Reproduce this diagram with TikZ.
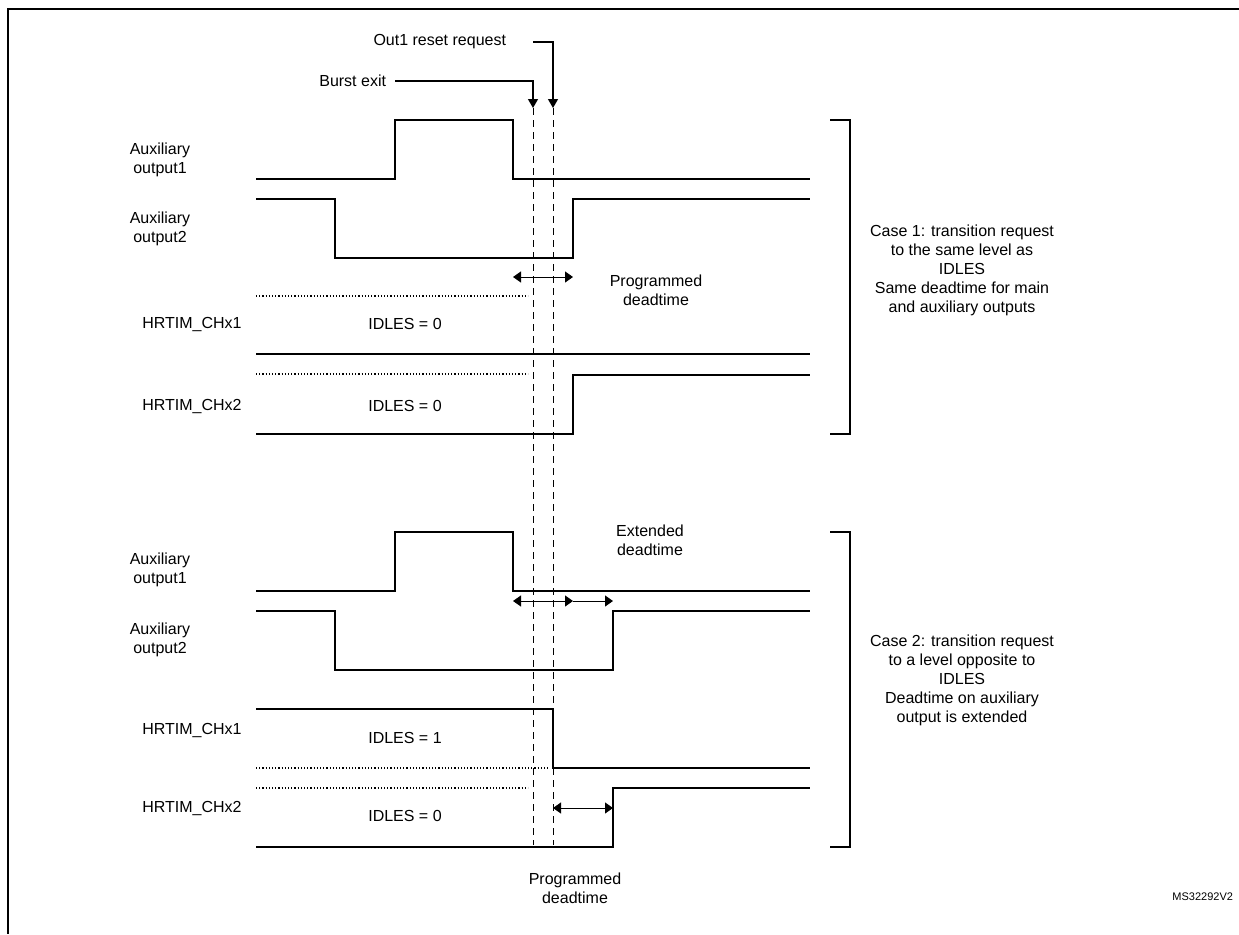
\documentclass[tikz,border=0pt]{standalone}
\usepackage{fontspec}
\setmainfont{Liberation Sans}
\usetikzlibrary{arrows.meta}
\begin{document}
\begin{tikzpicture}[x=1pt,y=-1pt,line width=1.3pt,
  lbl/.style={font=\fontsize{16}{19}\selectfont,align=center},
  sig/.style={line width=1.4pt},
  dots/.style={dotted,line width=1.2pt},
  reqline/.style={line width=1pt,dash pattern=on 7pt off 5pt},
  tip/.style={-{Triangle[length=9pt,width=10pt]}},
  dt/.style={{Triangle[length=8pt,width=11pt]}-{Triangle[length=8pt,width=11pt]},line width=1pt}]
\useasboundingbox (0,0) rectangle (1239,934);
%FRAME
\draw[line width=1.5pt] (1239,9) -- (8,9) -- (8,934);
%REQUESTS
\coordinate (be) at (533,108);
\coordinate (rr) at (553,108);
\node[lbl,anchor=east] (burst) at (390,81) {Burst exit};
\node[lbl,anchor=east] (reset) at (510,42) {Out1 reset request};
\draw[tip] (burst.east) ++(5,0) -| (be);
\draw[tip] (reset.east) ++(23,0) -| (rr);
\draw[reqline] (be) -- (533,845);
\draw[reqline] (rr) -- (553,845);

%CASE 1
\node[lbl] (a1) at (160,160) {Auxiliary\\output1};
\node[lbl] (a2) at (160,229) {Auxiliary\\output2};
\node[lbl] (h1) at (192,325) {HRTIM\_CHx1};
\node[lbl] (h2) at (192,406) {HRTIM\_CHx2};
\node[lbl] (i1) at (405,324) {IDLES = 0};
\node[lbl] (i2) at (405,406) {IDLES = 0};
\draw[sig] (256,179) -- (395,179) -- (395,120) -- (513,120) -- (513,179) -- (810,179);
\draw[sig] (256,199) -- (335,199) -- (335,258) -- (573,258) -- (573,199) -- (810,199);
\draw[dots] (256,296) -- (528,296);
\draw[sig] (256,354) -- (810,354);
\draw[dots] (256,374) -- (528,374);
\draw[sig] (256,434) -- (573,434) -- (573,375) -- (810,375);
\coordinate (p1a) at (513,277);
\coordinate (p1b) at (573,277);
\draw[dt] (p1a) -- (p1b);
\node[lbl] (pd1) at (656,290) {Programmed\\deadtime};
\draw[sig] (830,120) -- (850,120) -- (850,434) -- (830,434);
\node[lbl] (c1) at (962,270) {Case 1: transition request\\to the same level as\\IDLES\\Same deadtime for main\\and auxiliary outputs};

%CASE 2
\node[lbl] (b1) at (160,570) {Auxiliary\\output1};
\node[lbl] (b2) at (160,640) {Auxiliary\\output2};
\node[lbl] (g1) at (192,730) {HRTIM\_CHx1};
\node[lbl] (g2) at (192,808) {HRTIM\_CHx2};
\node[lbl] (j1) at (405,738) {IDLES = 1};
\node[lbl] (j2) at (405,816) {IDLES = 0};
\draw[sig] (256,591) -- (395,591) -- (395,532) -- (513,532) -- (513,591) -- (810,591);
\draw[sig] (256,611) -- (335,611) -- (335,670) -- (613,670) -- (613,611) -- (810,611);
\draw[sig] (256,709) -- (553,709) -- (553,768) -- (810,768);
\draw[dots] (256,768) -- (548,768);
\draw[dots] (256,788) -- (528,788);
\draw[sig] (256,847) -- (613,847) -- (613,788) -- (810,788);
\coordinate (e1) at (513,601);
\coordinate (e2) at (573,601);
\coordinate (e3) at (613,601);
\draw[dt] (e1) -- (e2);
\draw[line width=1pt,-{Triangle[length=8pt,width=11pt]}] (e2) -- (e3);
\node[lbl] (ed) at (650,540) {Extended\\deadtime};
\coordinate (p2a) at (553,808);
\coordinate (p2b) at (613,808);
\draw[dt] (p2a) -- (p2b);
\node[lbl] (pd2) at (575,888) {Programmed\\deadtime};
\draw[sig] (830,532) -- (850,532) -- (850,847) -- (830,847);
\node[lbl] (c2) at (962,680) {Case 2: transition request\\to a level opposite to\\IDLES\\Deadtime on auxiliary\\output is extended};

\node[font=\fontsize{11}{13}\selectfont,anchor=east] (ms) at (1237,897) {MS32292V2};
\end{tikzpicture}
\end{document}
